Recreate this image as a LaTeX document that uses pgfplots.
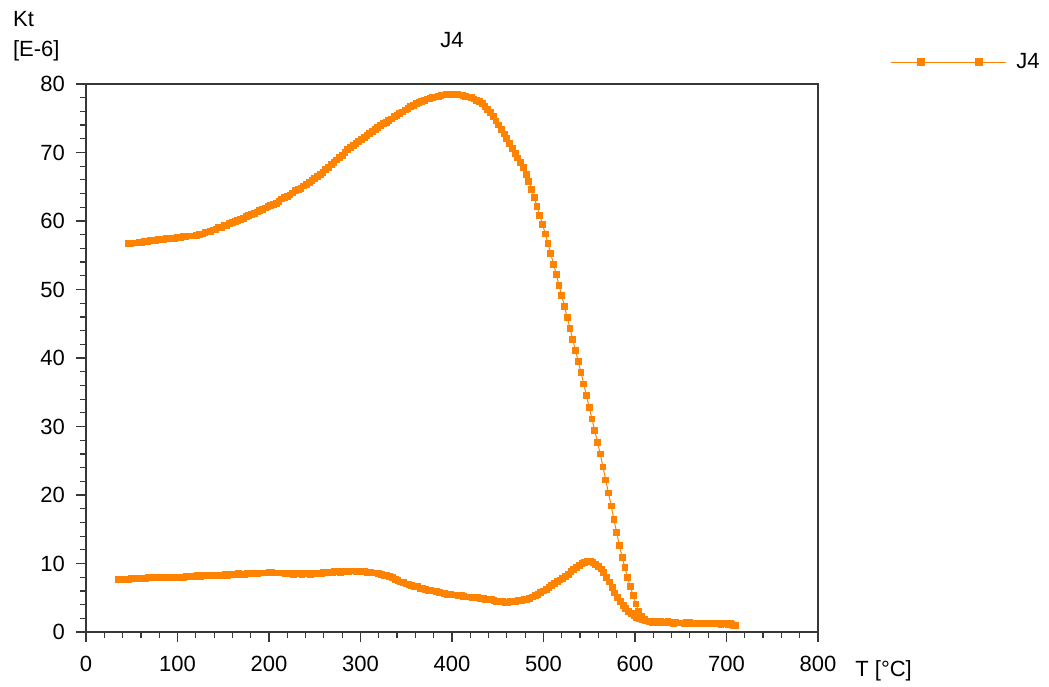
\documentclass[border=0pt]{standalone}
\usepackage{fontspec}
\setmainfont{Liberation Sans}
\usepackage{pgfplots}
\pgfplotsset{compat=1.18}
\usepackage{pgfplotstable}

\definecolor{jorange}{RGB}{255,130,0}
\definecolor{framegray}{RGB}{55,55,55}

% J4: heating run (46 -> 710 C) followed by the cooling run (710 -> 35 C)
\pgfplotstableread{
T Kt
46 56.7
49 56.7
52 56.8
55 56.8
58 56.9
61 56.9
64 57.0
67 57.0
70 57.1
73 57.1
76 57.2
79 57.3
82 57.3
85 57.3
88 57.4
91 57.4
94 57.5
97 57.5
100 57.6
103 57.6
106 57.7
109 57.7
112 57.8
115 57.8
118 57.8
121 57.9
124 58.0
127 58.1
130 58.3
133 58.4
136 58.5
139 58.7
142 58.8
145 59.0
148 59.1
151 59.3
154 59.4
157 59.6
160 59.8
163 59.9
166 60.1
169 60.2
172 60.4
175 60.6
178 60.8
181 60.9
184 61.1
187 61.3
190 61.5
193 61.7
196 61.9
199 62.1
202 62.3
205 62.4
208 62.6
211 62.9
214 63.2
217 63.4
220 63.6
223 63.8
226 64.1
229 64.4
232 64.6
235 64.8
238 65.1
241 65.3
244 65.6
247 65.9
250 66.2
253 66.5
256 66.8
259 67.1
262 67.5
265 67.8
268 68.2
271 68.5
274 68.9
277 69.3
280 69.6
283 70.0
286 70.4
289 70.7
292 71.0
295 71.3
298 71.6
301 71.9
304 72.2
307 72.5
310 72.8
313 73.1
316 73.4
319 73.6
322 73.9
325 74.2
328 74.4
331 74.7
334 74.9
337 75.2
340 75.4
343 75.7
346 75.9
349 76.2
352 76.4
355 76.7
358 76.9
361 77.1
364 77.3
367 77.5
370 77.6
373 77.8
376 77.9
379 78.0
382 78.1
385 78.2
388 78.3
391 78.4
394 78.5
397 78.5
400 78.5
403 78.5
406 78.5
409 78.4
412 78.3
415 78.2
418 78.1
421 78.0
424 77.8
427 77.6
430 77.4
433 77.1
436 76.7
439 76.3
442 75.8
445 75.2
448 74.6
451 74.0
454 73.4
457 72.7
460 72.0
463 71.3
466 70.6
469 69.9
472 69.2
475 68.5
478 67.8
481 66.8
484 65.8
487 64.6
490 63.4
493 62.1
496 60.8
499 59.5
502 58.1
505 56.7
508 55.2
511 53.7
514 52.2
517 50.6
520 49.1
523 47.5
526 45.9
529 44.3
532 42.7
535 41.1
538 39.5
541 37.9
544 36.2
547 34.5
550 32.8
553 31.1
556 29.4
559 27.7
562 26.0
565 24.1
568 22.2
571 20.3
574 18.4
577 16.4
580 14.5
583 12.6
586 10.9
589 9.4
592 7.9
595 6.6
598 5.3
601 4.1
604 3.0
607 2.3
610 1.9
613 1.6
616 1.5
619 1.4
622 1.4
626 1.3
630 1.4
634 1.3
638 1.3
642 1.2
646 1.3
650 1.3
654 1.2
658 1.3
662 1.2
666 1.3
670 1.2
674 1.2
678 1.3
682 1.2
686 1.2
690 1.2
694 1.1
698 1.2
702 1.1
706 1.1
710 1.0
708 1.0
704 1.2
700 1.3
696 1.2
692 1.3
688 1.2
684 1.3
680 1.3
676 1.2
672 1.3
668 1.3
664 1.2
660 1.4
656 1.4
652 1.3
648 1.3
644 1.4
640 1.4
636 1.5
632 1.4
628 1.5
624 1.5
620 1.5
617 1.6
614 1.6
611 1.7
608 1.8
605 1.9
602 2.1
599 2.4
596 2.7
593 3.0
590 3.4
587 3.9
584 4.4
581 5.0
578 5.7
575 6.5
572 7.3
569 8.0
566 8.7
563 9.2
560 9.6
557 9.9
554 10.2
551 10.3
548 10.3
545 10.2
542 10.0
539 9.7
536 9.4
533 9.1
530 8.8
527 8.4
524 8.1
521 7.8
518 7.6
515 7.4
512 7.1
509 6.8
506 6.5
503 6.2
500 6.0
497 5.8
494 5.5
491 5.3
488 5.1
485 4.9
482 4.8
479 4.7
476 4.6
473 4.6
470 4.5
467 4.4
464 4.4
461 4.3
458 4.3
455 4.4
452 4.4
449 4.5
446 4.6
443 4.7
440 4.7
437 4.8
434 4.9
431 4.9
428 5.0
425 5.0
422 5.0
419 5.1
416 5.1
413 5.2
410 5.3
407 5.3
404 5.4
401 5.4
398 5.5
395 5.5
392 5.6
389 5.7
386 5.8
383 5.9
380 6.0
377 6.1
374 6.1
371 6.2
368 6.3
365 6.4
362 6.6
359 6.7
356 6.8
353 6.9
350 7.0
347 7.2
344 7.3
341 7.5
338 7.7
335 7.9
332 8.1
329 8.2
326 8.3
323 8.4
320 8.5
317 8.6
314 8.6
311 8.7
308 8.7
305 8.8
302 8.8
299 8.8
296 8.8
293 8.9
290 8.9
287 8.8
284 8.8
281 8.9
278 8.7
275 8.8
272 8.8
269 8.7
266 8.7
263 8.6
260 8.7
257 8.5
254 8.6
251 8.5
248 8.5
245 8.4
242 8.6
239 8.5
236 8.4
233 8.5
230 8.5
227 8.4
224 8.5
221 8.6
218 8.5
215 8.6
212 8.6
209 8.6
206 8.6
203 8.7
200 8.7
197 8.6
194 8.6
191 8.6
188 8.5
185 8.6
182 8.5
179 8.5
176 8.5
173 8.4
170 8.4
167 8.5
164 8.4
161 8.4
158 8.4
155 8.3
152 8.4
149 8.3
146 8.3
143 8.3
140 8.2
137 8.3
134 8.2
131 8.2
128 8.2
125 8.1
122 8.2
119 8.1
116 8.1
113 8.1
110 8.1
107 8.0
104 8.0
101 8.0
98 8.0
95 8.0
92 7.9
89 8.0
86 7.9
83 7.9
80 7.9
77 7.9
74 7.9
71 7.9
68 7.9
65 7.8
62 7.8
59 7.8
56 7.8
53 7.8
50 7.8
47 7.7
44 7.7
41 7.7
38 7.7
35 7.7
}\jfour

\begin{document}
\begin{tikzpicture}[font=\fontsize{11}{15}\selectfont]
\path[use as bounding box] (0,0) rectangle (524.5pt,343pt);
\begin{axis}[
  at={(43pt,27pt)}, anchor=south west,
  width=366pt, height=274pt, scale only axis,
  xmin=0, xmax=800, ymin=0, ymax=80,
  xtick={0,100,...,800}, ytick={0,10,...,80},
  minor x tick num=4, minor y tick num=4,
  tick align=outside, major tick length=5pt, minor tick length=3pt,
  xtick pos=bottom, ytick pos=left,
  axis line style={framegray, line width=0.6pt},
  every tick/.style={framegray, line width=0.6pt},
  /pgf/number format/assume math mode=true,
  tick label style={font=\fontsize{11}{13}\selectfont},
  xticklabel style={yshift=-3.5pt},
  yticklabel style={xshift=-2pt},
  title={J4},
  title style={at={(0.5,1.0438)}, anchor=base, yshift=0pt, inner sep=0pt},
  xlabel={T [°C]},
  xlabel style={at={(axis description cs:1.0505,-0.0803)}, anchor=base west, inner sep=0pt},
  ylabel={Kt\\{[E-6]}},
  every axis y label/.style={at={(axis description cs:-0.1001,1.0510)}, anchor=base west, inner sep=0pt, align=left},
  legend style={at={(1.0984,1.0401)}, anchor=west, draw=none, fill=none,
    inner sep=0pt, column sep=5pt, nodes={inner sep=0pt}},
  legend image code/.code={
    \draw[jorange, line width=0.5pt] (0pt,0pt) -- (57.5pt,0pt);
    \draw[jorange, only marks, mark=square*, mark size=1.7pt]
      plot coordinates {(15pt,0pt) (44pt,0pt)};
  },
]
\addplot[color=jorange, line width=0.5pt, mark=square*, mark size=1.45pt,
  mark options={solid, fill=jorange, draw=jorange}]
  table[x=T, y=Kt] {\jfour};
\addlegendentry{J4}
\end{axis}
\end{tikzpicture}
\end{document}
